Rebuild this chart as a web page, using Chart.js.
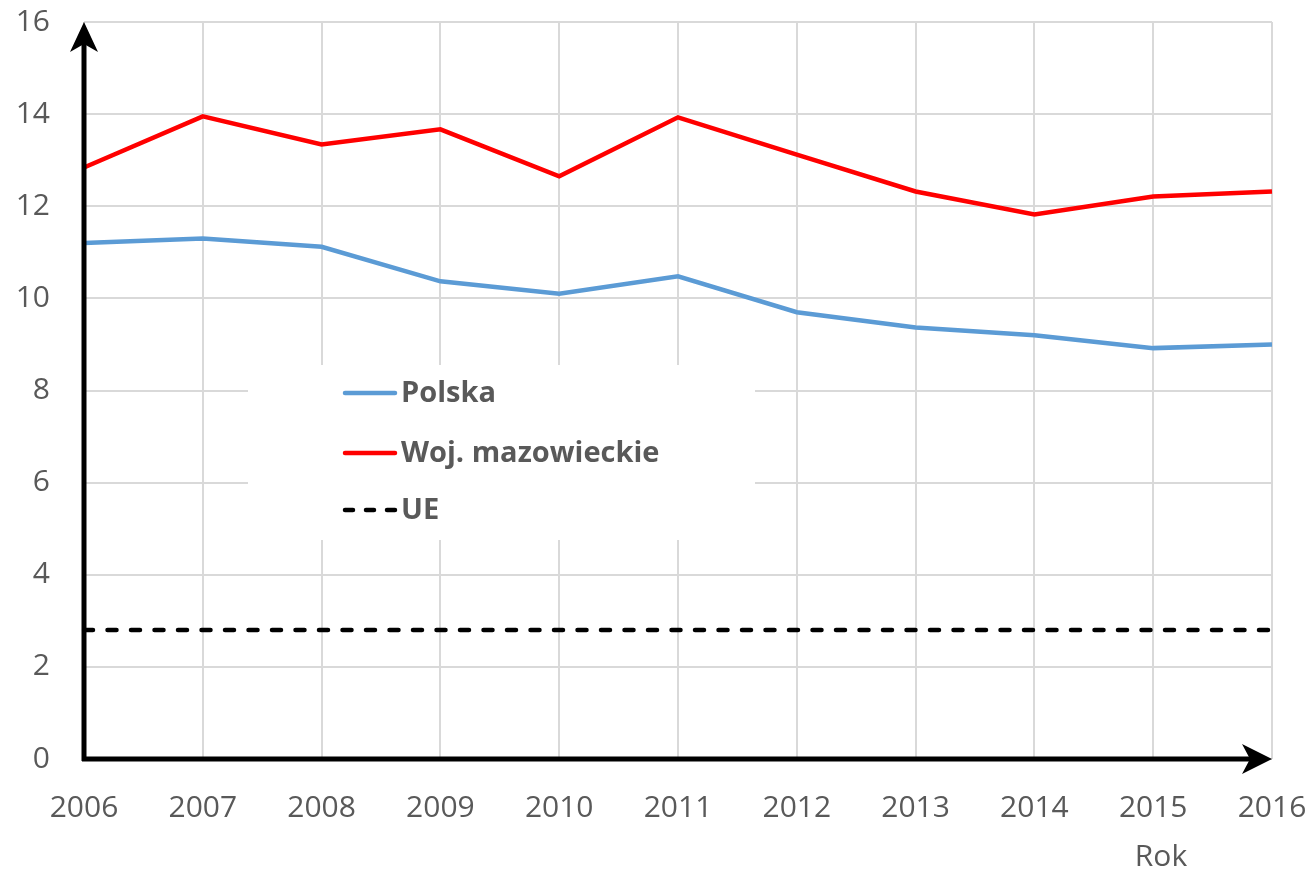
<!DOCTYPE html>
<html>
<head>
<meta charset="utf-8">
<script src="https://cdn.jsdelivr.net/npm/chart.js@4"></script>
<style>
  html, body { margin: 0; padding: 0; background: #fff; }
  #wrap { width: 1315px; height: 874px; position: relative; }
</style>
</head>
<body>
<div id="wrap"><canvas id="chart"></canvas></div>
<script>
const years = ["2006", "2007", "2008", "2009", "2010", "2011", "2012", "2013", "2014", "2015", "2016"];
const polska = [11.2, 11.3, 11.12, 10.37, 10.1, 10.48, 9.7, 9.37, 9.2, 8.92, 9.0];
const mazowieckie = [12.84, 13.95, 13.34, 13.67, 12.65, 13.93, 13.12, 12.32, 11.82, 12.21, 12.32];
const ue = [2.8, 2.8, 2.8, 2.8, 2.8, 2.8, 2.8, 2.8, 2.8, 2.8, 2.8];
const yTicks = [0, 2, 4, 6, 8, 10, 12, 14, 16];

const textGray = "#595959";
const fontFamily = "'Open Sans', 'Liberation Sans', sans-serif";

// white legend box inside the plot, drawn over the grid but under the lines
const legendBox = {
  id: "legendBox",
  beforeDatasetsDraw(chart) {
    const { ctx, chartArea } = chart;
    const x0 = chartArea.left + 164, y0 = chartArea.top + 343;
    ctx.save();
    ctx.fillStyle = "#fff";
    ctx.fillRect(x0, y0, 507, 175);
    const rows = [28, 88, 145];
    chart.data.datasets.forEach((ds, i) => {
      const y = y0 + rows[i];
      ctx.beginPath();
      ctx.strokeStyle = ds.borderColor;
      ctx.lineWidth = 4.5;
      ctx.lineCap = "round";
      ctx.setLineDash(ds.borderDash ? [8, 13] : []);
      ctx.moveTo(x0 + 97, y);
      ctx.lineTo(x0 + 147, y);
      ctx.stroke();
      ctx.setLineDash([]);
      ctx.fillStyle = textGray;
      ctx.font = "bold 29px " + fontFamily;
      ctx.textBaseline = "middle";
      ctx.fillText(ds.label, x0 + 153, y + 1);
    });
    ctx.restore();
  }
};

// thick axes with arrow heads, plus the "Rok" axis caption
const arrowAxes = {
  id: "arrowAxes",
  afterDraw(chart) {
    const { ctx, chartArea } = chart;
    const l = chartArea.left, b = chartArea.bottom, t = chartArea.top, r = chartArea.right;
    ctx.save();
    ctx.strokeStyle = "#000";
    ctx.fillStyle = "#000";
    ctx.lineWidth = 5;
    ctx.beginPath();
    ctx.moveTo(l, b + 2);
    ctx.lineTo(l, t + 20);
    ctx.moveTo(l - 2, b);
    ctx.lineTo(r - 20, b);
    ctx.stroke();
    // up arrow
    ctx.beginPath();
    ctx.moveTo(l, t);
    ctx.lineTo(l - 14, t + 30);
    ctx.lineTo(l, t + 22);
    ctx.lineTo(l + 14, t + 30);
    ctx.closePath();
    ctx.fill();
    // right arrow
    ctx.beginPath();
    ctx.moveTo(r, b);
    ctx.lineTo(r - 30, b - 15);
    ctx.lineTo(r - 22, b);
    ctx.lineTo(r - 30, b + 15);
    ctx.closePath();
    ctx.fill();
    ctx.fillStyle = textGray;
    ctx.font = "30px " + fontFamily;
    ctx.textAlign = "center";
    ctx.textBaseline = "middle";
    ctx.fillText("Rok", r - 111, b + 98);
    ctx.restore();
  }
};

const ctx = document.getElementById("chart").getContext("2d");
new Chart(ctx, {
  type: "line",
  data: {
    labels: years,
    datasets: [
      { label: "Polska", data: polska, borderColor: "#5b9bd5", borderWidth: 4.5, pointRadius: 0, tension: 0 },
      { label: "Woj. mazowieckie", data: mazowieckie, borderColor: "#ff0000", borderWidth: 4.5, pointRadius: 0, tension: 0 },
      { label: "UE", data: ue, borderColor: "#000000", borderWidth: 4.5, borderDash: [9, 14.5], borderCapStyle: "round", pointRadius: 0 }
    ]
  },
  options: {
    responsive: true,
    maintainAspectRatio: false,
    animation: false,
    layout: { padding: { top: 22, right: 43, left: 0, bottom: 0 } },
    plugins: {
      legend: { display: false },
      tooltip: { enabled: false }
    },
    scales: {
      x: {
        offset: false,
        grid: { color: "#d9d9d9", lineWidth: 2, drawTicks: false },
        border: { display: false },
        ticks: { color: textGray, font: { family: fontFamily, size: 30 }, padding: 31, maxRotation: 0, autoSkip: false },
        afterFit: scale => {
          scale.height = 115;
          scale.paddingLeft = 0; scale.paddingRight = 0;
        }
      },
      y: {
        min: yTicks[0],
        max: yTicks[yTicks.length - 1],
        grid: { color: "#d9d9d9", lineWidth: 2, drawTicks: false },
        border: { display: false },
        afterBuildTicks: scale => { scale.ticks = yTicks.map(v => ({ value: v })); },
        ticks: { color: textGray, font: { family: fontFamily, size: 30 }, padding: 34 },
        afterFit: scale => {
          scale.width = 84;
          scale.paddingTop = 0; scale.paddingBottom = 0;
        }
      }
    }
  },
  plugins: [legendBox, arrowAxes]
});
</script>
</body>
</html>
